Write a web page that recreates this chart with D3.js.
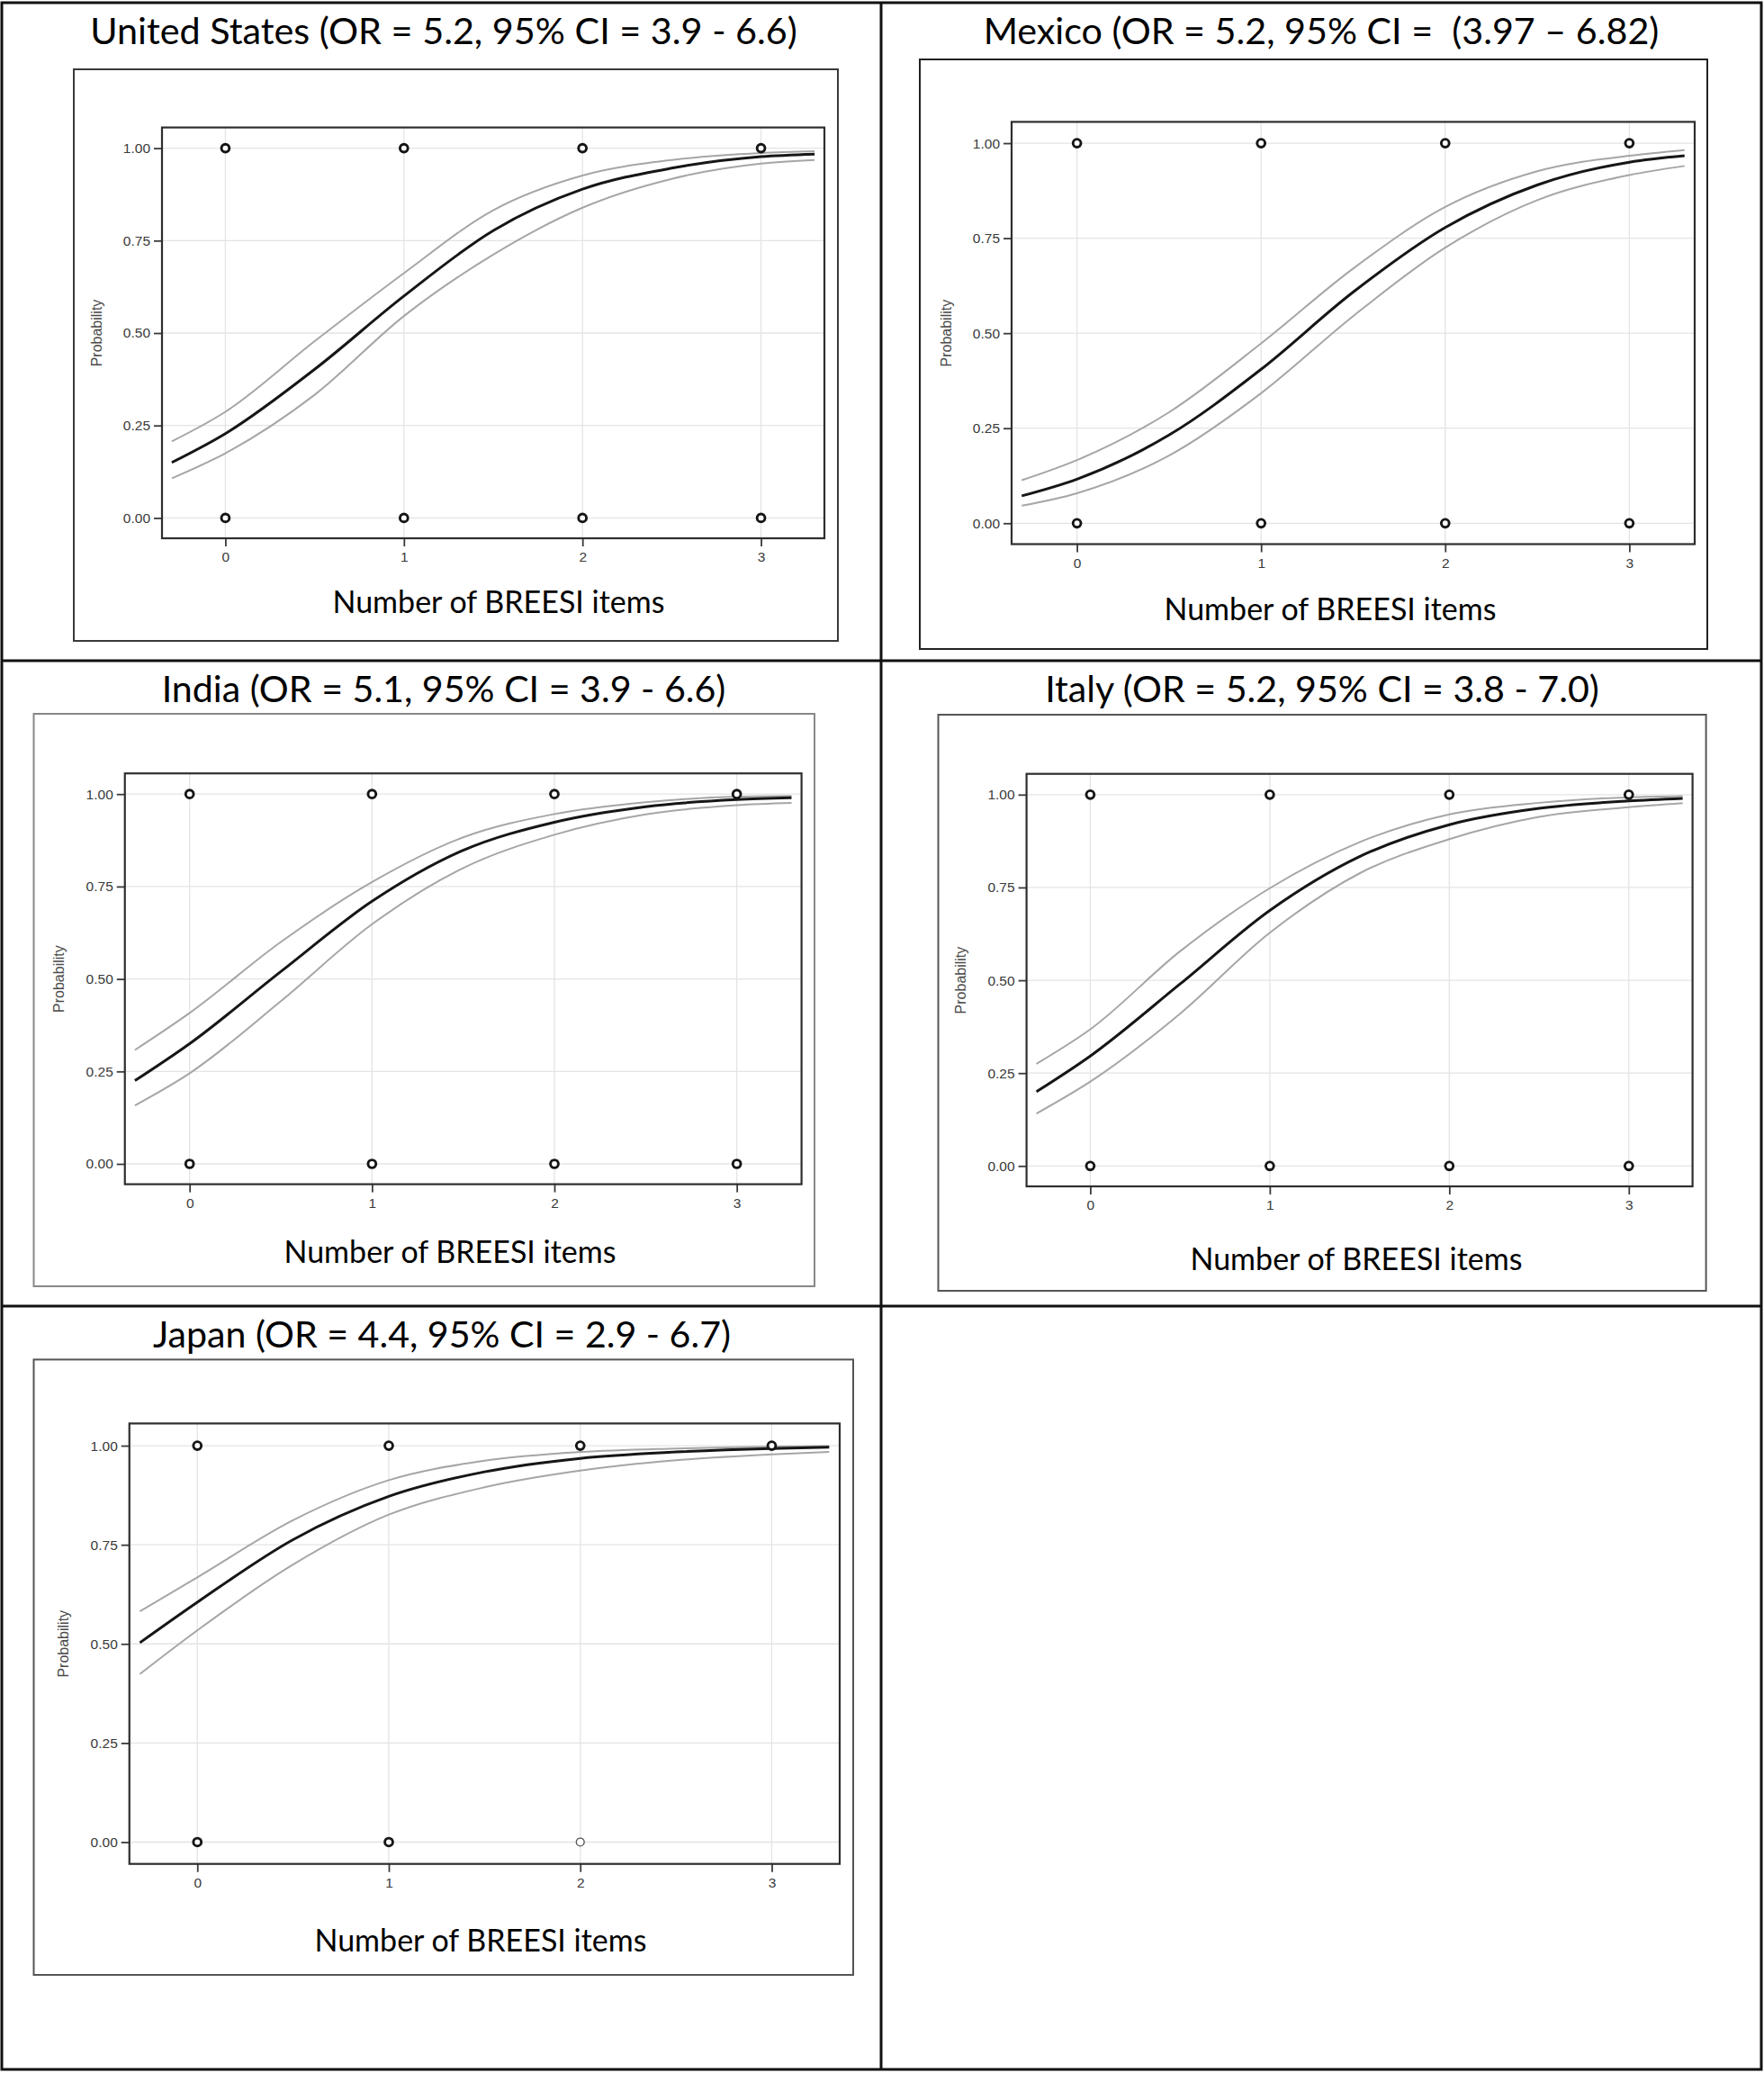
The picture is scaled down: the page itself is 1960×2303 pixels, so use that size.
<!DOCTYPE html>
<html>
<head>
<meta charset="utf-8">
<script src="https://cdn.jsdelivr.net/npm/d3@7"></script>
<style>
body { margin: 0; background: #fff; }
</style>
</head>
<body>
<script>
// BREESI logistic panels
// five predicted probability plots (fit + 95% CI band lines) in a 2-col table

var xs = [-0.3, 0, 0.5, 1, 1.5, 2, 2.5, 3, 3.3];
var xTicks = [0, 1, 2, 3];
var yTicks = [0, 0.25, 0.5, 0.75, 1];

var titles = [
	"United States (OR = 5.2, 95% CI = 3.9 - 6.6)",
	"Mexico (OR = 5.2, 95% CI =  (3.97 \u2013 6.82)",
	"India (OR = 5.1, 95% CI = 3.9 - 6.6)",
	"Italy (OR = 5.2, 95% CI = 3.8 - 7.0)",
	"Japan (OR = 4.4, 95% CI = 2.9 - 6.7)"
];
var xLabel = "Number of BREESI items";
var yLabel = "Probability";

var usFit   = [0.150, 0.228, 0.402, 0.600, 0.777, 0.889, 0.946, 0.977, 0.984];
var usUpper = [0.207, 0.287, 0.478, 0.662, 0.832, 0.926, 0.968, 0.987, 0.992];
var usLower = [0.107, 0.175, 0.333, 0.546, 0.712, 0.839, 0.917, 0.958, 0.968];

var mxFit   = [0.072, 0.116, 0.232, 0.405, 0.608, 0.778, 0.890, 0.950, 0.967];
var mxUpper = [0.113, 0.166, 0.292, 0.473, 0.670, 0.832, 0.926, 0.967, 0.982];
var mxLower = [0.046, 0.079, 0.178, 0.342, 0.545, 0.725, 0.850, 0.916, 0.940];

var inFit   = [0.225, 0.325, 0.520, 0.710, 0.848, 0.924, 0.966, 0.985, 0.990];
var inUpper = [0.308, 0.408, 0.600, 0.762, 0.883, 0.946, 0.978, 0.993, 0.995];
var inLower = [0.158, 0.245, 0.440, 0.648, 0.800, 0.890, 0.945, 0.970, 0.976];

var itFit   = [0.200, 0.296, 0.490, 0.688, 0.833, 0.919, 0.963, 0.983, 0.990];
var itUpper = [0.275, 0.368, 0.578, 0.748, 0.872, 0.947, 0.978, 0.993, 0.996];
var itLower = [0.141, 0.227, 0.410, 0.628, 0.788, 0.880, 0.940, 0.966, 0.977];

var jpFit   = [0.503, 0.605, 0.763, 0.872, 0.934, 0.968, 0.984, 0.993, 0.996];
var jpUpper = [0.582, 0.668, 0.812, 0.913, 0.962, 0.984, 0.993, 0.998, 0.999];
var jpLower = [0.424, 0.534, 0.700, 0.826, 0.895, 0.937, 0.963, 0.978, 0.984];

// observed outcomes at each item count (2 = many overlapping, 1 = single, 0 = none)
var usObsYes = [2, 2, 2, 2], usObsNo = [2, 2, 2, 2];
var mxObsYes = [2, 2, 2, 2], mxObsNo = [2, 2, 2, 2];
var inObsYes = [2, 2, 2, 2], inObsNo = [2, 2, 2, 2];
var itObsYes = [2, 2, 2, 2], itObsNo = [2, 2, 2, 2];
var jpObsYes = [2, 2, 2, 2], jpObsNo = [2, 2, 1, 0];

var W = 1960, H = 2303;

var svg = d3.select("body").append("svg")
	.attr("width", W)
	.attr("height", H);

// layout of each pasted plot: outer box, plot frame, title / x label anchors
var panels = [
	{ title: titles[0], fit: usFit, upper: usUpper, lower: usLower, yes: usObsYes, no: usObsNo,
	  box: [82, 77, 931, 712], boxColor: "#3a3a3a", frame: [180, 141.6, 916, 598],
	  titleX: 493, titleY: 48.5, titleW: 786, labX: 554, labY: 681 },
	{ title: titles[1], fit: mxFit, upper: mxUpper, lower: mxLower, yes: mxObsYes, no: mxObsNo,
	  box: [1022, 66, 1897, 721], boxColor: "#222", frame: [1124, 135.4, 1883, 604.5],
	  titleX: 1468, titleY: 48.5, titleW: 751, labX: 1478, labY: 689 },
	{ title: titles[2], fit: inFit, upper: inUpper, lower: inLower, yes: inObsYes, no: inObsNo,
	  box: [37.5, 793, 905, 1429], boxColor: "#888", frame: [138.75, 859.2, 890.6, 1315.6],
	  titleX: 493, titleY: 780, titleW: 627, labX: 500, labY: 1403 },
	{ title: titles[3], fit: itFit, upper: itUpper, lower: itLower, yes: itObsYes, no: itObsNo,
	  box: [1042.5, 794, 1895.6, 1434], boxColor: "#555", frame: [1140.6, 859.7, 1880.6, 1318],
	  titleX: 1469, titleY: 780, titleW: 616, labX: 1507, labY: 1411 },
	{ title: titles[4], fit: jpFit, upper: jpUpper, lower: jpLower, yes: jpObsYes, no: jpObsNo,
	  box: [37.5, 1510.4, 948, 2194], boxColor: "#555", frame: [143.75, 1581.4, 933, 2070.7],
	  titleX: 491, titleY: 1496.7, titleW: 642, labX: 534, labY: 2167.5 }
];

// table grid
var table = svg.append("g").attr("class", "table");
table.append("rect")
	.attr("x", 2).attr("y", 3)
	.attr("width", 1955).attr("height", 2296)
	.attr("fill", "none").attr("stroke", "#111").attr("stroke-width", 3);
table.append("line")
	.attr("x1", 979).attr("x2", 979).attr("y1", 3).attr("y2", 2299)
	.attr("stroke", "#111").attr("stroke-width", 3);
[734, 1451].forEach(function (yy) {
	table.append("line")
		.attr("x1", 2).attr("x2", 1957).attr("y1", yy).attr("y2", yy)
		.attr("stroke", "#111").attr("stroke-width", 3);
});

// scale a text's font size so it spans the wanted width
var fitText = function (sel, base, target) {
	sel.attr("font-size", base);
	var len = sel.node().getComputedTextLength();
	sel.attr("font-size", base * target / len);
};

var drawPanel = function (p) {
	var g = svg.append("g");

	var title = g.append("text")
		.attr("x", p.titleX).attr("y", p.titleY)
		.attr("text-anchor", "middle")
		.attr("font-family", "Lato, 'Open Sans', sans-serif")
		.attr("fill", "#000")
		.style("white-space", "pre")
		.text(p.title);
	fitText(title, 40, p.titleW);

	g.append("rect")
		.attr("x", p.box[0]).attr("y", p.box[1])
		.attr("width", p.box[2] - p.box[0]).attr("height", p.box[3] - p.box[1])
		.attr("fill", "#fff").attr("stroke", p.boxColor).attr("stroke-width", 2);

	var x = d3.scaleLinear().domain([-0.355, 3.355]).range([p.frame[0], p.frame[2]]);
	var y = d3.scaleLinear().domain([-0.055, 1.056]).range([p.frame[3], p.frame[1]]);

	// grid
	g.selectAll(".vgrid").data(xTicks).enter().append("line")
		.attr("x1", function (d) { return x(d); }).attr("x2", function (d) { return x(d); })
		.attr("y1", p.frame[1]).attr("y2", p.frame[3])
		.attr("stroke", "#e4e4e4").attr("stroke-width", 1.3);
	g.selectAll(".hgrid").data(yTicks).enter().append("line")
		.attr("x1", p.frame[0]).attr("x2", p.frame[2])
		.attr("y1", function (d) { return y(d); }).attr("y2", function (d) { return y(d); })
		.attr("stroke", "#e4e4e4").attr("stroke-width", 1.3);

	// axes
	var xAxis = g.append("g")
		.attr("transform", "translate(0," + p.frame[3] + ")")
		.call(d3.axisBottom(x).tickValues(xTicks).tickSize(9).tickPadding(6).tickFormat(d3.format("d")));
	var yAxis = g.append("g")
		.attr("transform", "translate(" + p.frame[0] + ",0)")
		.call(d3.axisLeft(y).tickValues(yTicks).tickSize(9).tickPadding(4).tickFormat(d3.format(".2f")));
	[xAxis, yAxis].forEach(function (a) {
		a.select(".domain").remove();
		a.selectAll("line").attr("stroke", "#3a3a3a").attr("stroke-width", 1.8);
		a.selectAll("text")
			.attr("font-family", "'Liberation Sans', Arial, sans-serif")
			.attr("font-size", 15.5)
			.attr("fill", "#3a3a3a");
	});

	g.append("text")
		.attr("transform", "translate(" + (p.frame[0] - 73) + "," + y(0.5) + ") rotate(-90)")
		.attr("text-anchor", "middle")
		.attr("dy", "0.35em")
		.attr("font-family", "'Liberation Sans', Arial, sans-serif")
		.attr("font-size", 16)
		.attr("fill", "#4a4a4a")
		.text(yLabel);

	// curves
	var line = d3.line()
		.x(function (d) { return x(d[0]); })
		.y(function (d) { return y(d[1]); })
		.curve(d3.curveMonotoneX);
	[p.upper, p.lower].forEach(function (band) {
		g.append("path")
			.datum(d3.zip(xs, band))
			.attr("d", line)
			.attr("fill", "none")
			.attr("stroke", "#a6a6a6")
			.attr("stroke-width", 2);
	});
	g.append("path")
		.datum(d3.zip(xs, p.fit))
		.attr("d", line)
		.attr("fill", "none")
		.attr("stroke", "#161616")
		.attr("stroke-width", 3);

	// observed points
	var pts = [];
	xTicks.forEach(function (t, i) {
		if (p.yes[i] > 0) pts.push({ x: t, y: 1, n: p.yes[i] });
		if (p.no[i] > 0) pts.push({ x: t, y: 0, n: p.no[i] });
	});
	g.selectAll(".pt").data(pts).enter().append("circle")
		.attr("cx", function (d) { return x(d.x); })
		.attr("cy", function (d) { return y(d.y); })
		.attr("r", 4.4)
		.attr("fill", "#fff")
		.attr("stroke", function (d) { return d.n > 1 ? "#151515" : "#555"; })
		.attr("stroke-width", function (d) { return d.n > 1 ? 2.9 : 1.4; });

	// plot frame
	g.append("rect")
		.attr("x", p.frame[0]).attr("y", p.frame[1])
		.attr("width", p.frame[2] - p.frame[0]).attr("height", p.frame[3] - p.frame[1])
		.attr("fill", "none").attr("stroke", "#2e2e2e").attr("stroke-width", 2.2);

	var lab = g.append("text")
		.attr("x", p.labX).attr("y", p.labY)
		.attr("text-anchor", "middle")
		.attr("font-family", "Lato, 'Open Sans', sans-serif")
		.attr("fill", "#000")
		.text(xLabel);
	fitText(lab, 34, 369);
};

panels.forEach(drawPanel);
</script>
</body>
</html>
